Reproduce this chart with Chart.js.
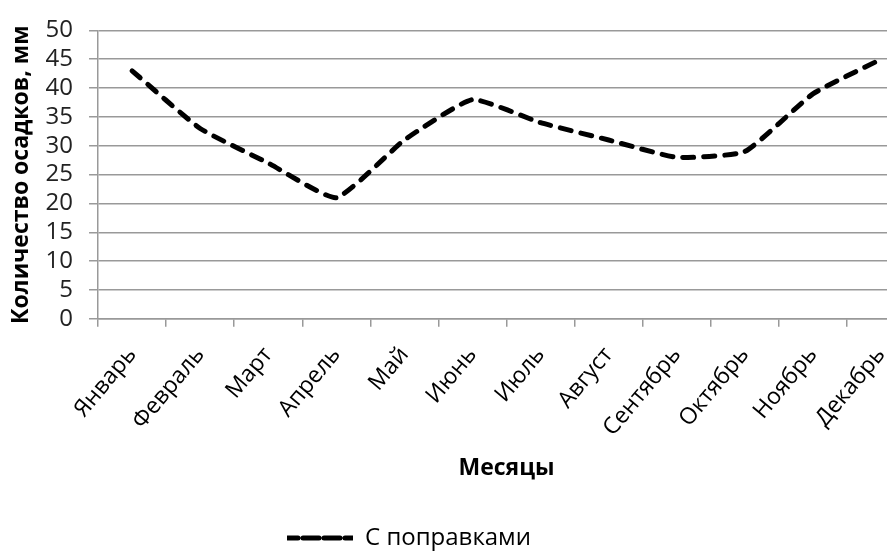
<!DOCTYPE html>
<html>
<head>
<meta charset="utf-8">
<script src="https://cdn.jsdelivr.net/npm/chart.js@4.4.1/dist/chart.umd.min.js"></script>
<style>
html, body { margin: 0; padding: 0; background: #fff; overflow: hidden; }
#wrap { width: 887px; height: 551px; overflow: hidden; }
</style>
</head>
<body>
<div id="wrap"><canvas id="osadki" width="930" height="551"></canvas></div>
<script>
// подписи и значения
const mesyacy = ['Январь', 'Февраль', 'Март', 'Апрель', 'Май', 'Июнь', 'Июль', 'Август', 'Сентябрь', 'Октябрь', 'Ноябрь', 'Декабрь'];
const sPopravkami = [43, 33, 27, 21, 31, 38, 34, 31, 28, 29, 39, 45];
const yMin = 0, yMax = 50, yShag = 5;
const shtrih = [11, 10];

Chart.defaults.font.family = "'Open Sans', sans-serif";
Chart.defaults.color = '#000';

// легенда в оригинале левее центра и ниже
const sdvigLegendy = {
  id: 'sdvigLegendy',
  beforeDraw(chart) {
    const lg = chart.legend;
    const d = (lg.left + lg.right) / 2 - 409;
    lg.left -= d;
    lg.right -= d;
    const h = lg.bottom - lg.top;
    lg.top = 523;
    lg.bottom = 523 + h;
  }
};

new Chart(document.getElementById('osadki'), {
  type: 'line',
  data: {
    labels: mesyacy,
    datasets: [{
      label: 'С поправками',
      data: sPopravkami,
      borderColor: '#000',
      backgroundColor: '#000',
      borderWidth: 5,
      borderDash: shtrih,
      borderCapStyle: 'round',
      tension: 0.15,
      pointRadius: 0,
      fill: false
    }]
  },
  options: {
    responsive: false,
    animation: false,
    layout: { padding: { top: 6, right: 15, left: 6, bottom: 0 } },
    plugins: {
      legend: {
        position: 'bottom',
        labels: {
          boxWidth: 66,
          boxHeight: 0,
          font: { size: 24 },
          color: '#000',
          padding: 3,
          generateLabels(chart) {
            return Chart.defaults.plugins.legend.labels.generateLabels(chart).map(l => ({
              ...l, lineDash: shtrih, lineWidth: 5, lineCap: 'round'
            }));
          }
        }
      },
      tooltip: { enabled: false }
    },
    scales: {
      x: {
        offset: true,
        afterFit(scale) { scale.paddingLeft = 0; scale.paddingRight = 0; },
        grid: {
          offset: true,
          drawOnChartArea: false,
          color: '#999',
          lineWidth: 1.5,
          tickLength: 8
        },
        border: { color: '#999', width: 1.5 },
        ticks: {
          minRotation: 50,
          maxRotation: 50,
          font: { size: 23 },
          color: '#000',
          padding: 15
        },
        title: {
          display: true,
          text: 'Месяцы',
          font: { size: 23, weight: 'bold' },
          color: '#000',
          padding: { top: -2, bottom: 32 }
        }
      },
      y: {
        min: yMin,
        max: yMax,
        ticks: {
          stepSize: yShag,
          autoSkip: false,
          font: { size: 24 },
          color: '#222',
          padding: 16
        },
        grid: {
          color: '#999',
          lineWidth: 1.5,
          tickLength: 9
        },
        border: { color: '#999', width: 1.5 },
        title: {
          display: true,
          text: 'Количество осадков, мм',
          font: { size: 23, weight: 'bold' },
          color: '#000',
          padding: { top: 2, bottom: -6 }
        }
      }
    }
  },
  plugins: [sdvigLegendy]
});
</script>
</body>
</html>
